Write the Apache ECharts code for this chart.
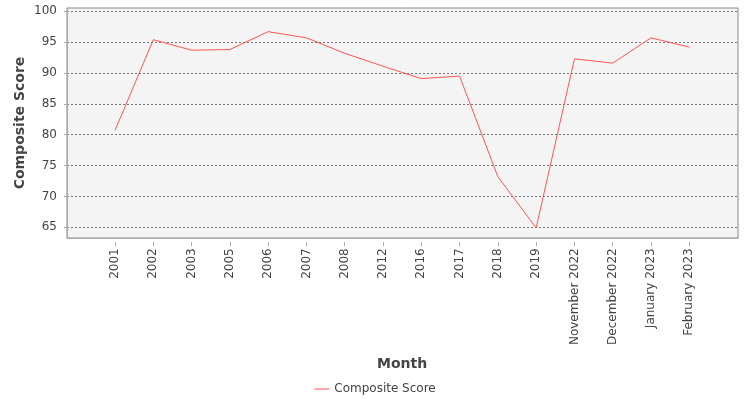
<!DOCTYPE html>
<html lang="en">
  <head>
    <meta charset="UTF-8" />
    <title>Composite Score</title>
    <script src="https://cdn.jsdelivr.net/npm/echarts@6/dist/echarts.min.js"></script>
  </head>
  <body style="margin:0">
    <div id="main" style="width:750px;height:400px"></div>
    <script>
      // data
      var months = ["2001", "2002", "2003", "2005", "2006", "2007", "2008", "2012",
        "2016", "2017", "2018", "2019", "November 2022", "December 2022",
        "January 2023", "February 2023"];
      var scores = [80.7, 95.4, 93.7, 93.8, 96.7, 95.7, 93.2, 91.1,
        89.1, 89.5, 73.2, 64.9, 92.3, 91.6, 95.7, 94.2];
      var yTicks = [65, 100, 5]; // min, max, step

      var txt = { fontFamily: "DejaVu Sans", fontSize: 12, color: "#444" };
      var myChart = echarts.init(document.getElementById("main"));
      var option = {
        animation: false,
        textStyle: { fontFamily: "DejaVu Sans" },
        grid: [
          // frame
          { left: 67, right: 12, top: 8, bottom: 162, show: true,
            backgroundColor: "#f4f4f4", borderColor: "#888", borderWidth: 1 },
          // horizontal grid lines + y labels
          { left: 67, right: 12, top: 11.3, bottom: 172.7 },
          // the line itself
          { left: 115, right: 60.7, top: 11.3, bottom: 172.7 }
        ],
        xAxis: [
          { gridIndex: 0, type: "value", min: 0, max: 1, offset: 4,
            axisLine: { show: true, lineStyle: { color: "#aaa" } },
            axisTick: { show: false }, axisLabel: { show: false }, splitLine: { show: false } },
          { gridIndex: 1, type: "value", min: 0, max: 1, show: false },
          { gridIndex: 2, type: "category", data: months, boundaryGap: false, offset: 15,
            axisLine: { show: false },
            axisTick: { show: true, length: 4, lineStyle: { color: "#aaa" } },
            axisLabel: Object.assign({ rotate: 90, margin: 6, interval: 0 }, txt),
            name: "Month", nameLocation: "middle", nameGap: 115,
            nameTextStyle: { fontFamily: "DejaVu Sans", fontSize: 14, fontWeight: "bold", color: "#444" } }
        ],
        yAxis: [
          { gridIndex: 0, type: "value", min: 0, max: 1, offset: 4,
            axisLine: { show: true, lineStyle: { color: "#aaa" } },
            axisTick: { show: false }, axisLabel: { show: false }, splitLine: { show: false },
            name: "Composite Score", nameLocation: "middle", nameGap: 36,
            nameTextStyle: { fontFamily: "DejaVu Sans", fontSize: 14, fontWeight: "bold", color: "#444" } },
          { gridIndex: 1, type: "value", min: yTicks[0], max: yTicks[1], interval: yTicks[2], offset: 4,
            axisLine: { show: false },
            axisTick: { show: true, length: 3, lineStyle: { color: "#aaa" } },
            axisLabel: Object.assign({ margin: 6 }, txt),
            splitLine: { show: true, lineStyle: { color: "#777", type: [2, 2], width: 1 } } },
          { gridIndex: 2, type: "value", min: yTicks[0], max: yTicks[1], show: false }
        ],
        legend: {
          top: 378, left: "center",
          icon: "rect", itemWidth: 15, itemHeight: 1, itemGap: 5,
          textStyle: txt,
          data: ["Composite Score"]
        },
        series: [
          {
            name: "Composite Score", type: "line",
            xAxisIndex: 2, yAxisIndex: 2,
            data: scores, symbol: "none", clip: false,
            lineStyle: { color: "#ff5555", width: 1 },
            itemStyle: { color: "#ff5555" }
          }
        ]
      };
      myChart.setOption(option);
    </script>
  </body>
</html>
